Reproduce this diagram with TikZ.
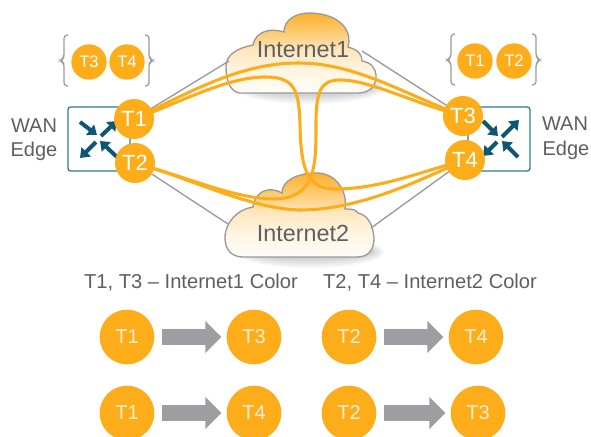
\documentclass[tikz,border=0pt]{standalone}
\usepackage{fontspec}
\setmainfont{Liberation Sans}
\usetikzlibrary{arrows.meta}
\definecolor{tunnel}{HTML}{FDAC1A}
\definecolor{linkgrey}{HTML}{9A9A9C}
\definecolor{txtgrey}{HTML}{5F5F61}
\definecolor{routerblue}{HTML}{0F5674}
\definecolor{boxblue}{HTML}{2E7A98}
\definecolor{arrowgrey}{HTML}{9E9EA2}
\definecolor{cloudtop}{HTML}{FDB02A}
\definecolor{cloudhigh}{HTML}{FDCB72}
\definecolor{cloudmid}{HTML}{FEE6BC}
\definecolor{cloudlow}{HTML}{FFF4DF}
\definecolor{cloudbot}{HTML}{FFFDF9}
\definecolor{lighttext}{HTML}{FFEFD2}
\pgfdeclareverticalshading{cloudshade}{100bp}{color(0bp)=(cloudbot); color(25bp)=(cloudbot); color(40bp)=(cloudlow); color(52bp)=(cloudmid); color(63bp)=(cloudhigh); color(75bp)=(cloudtop); color(100bp)=(cloudtop)}
\newcommand{\cloudone}{(240,93) -- (358,93) .. controls (370,93) and (377,85) .. (376,75) .. controls (375,68) and (372,63) .. (362,61) .. controls (362,55) and (359,50) .. (348,47) .. controls (352,35) and (345,14) .. (310,13) .. controls (295,13) and (284,20) .. (284,32) .. controls (272,28) and (256,30) .. (253,45) .. controls (238,48) and (226,54) .. (226,67) .. controls (226,80) and (230,92) .. (240,93) -- cycle}
\newcommand{\cloudtwo}{(243,257) -- (357,257) .. controls (370,257) and (374,248) .. (374,238) .. controls (373,225) and (368,215) .. (358,213) .. controls (356,209) and (350,209) .. (345,209) .. controls (348,190) and (335,173) .. (317,173) .. controls (298,173) and (282,180) .. (282,193) .. controls (272,187) and (256,188) .. (253,207) .. controls (238,209) and (225,222) .. (225,238) .. controls (225,250) and (232,257) .. (243,257) -- cycle}
\tikzset{
  tunnelline/.style={draw=tunnel,line width=2.3pt},
  greylink/.style={draw=linkgrey,line width=1pt},
  brace/.style={draw=linkgrey,line width=0.9pt,rounded corners=2.5pt},
  tcircle/.style={circle,fill=tunnel,text=white,inner sep=0pt,outer sep=0pt,minimum size=#1},
  tbig/.style={tcircle=30pt,font=\fontsize{16.5pt}{18pt}\selectfont},
  tsmall/.style={tcircle=26.5pt,font=\fontsize{12.5pt}{14pt}\selectfont},
  tflow/.style={tcircle=41pt,text=lighttext,font=\fontsize{15pt}{17pt}\selectfont},
  flowarrow/.style={draw=arrowgrey,line width=12pt,-{Triangle[length=12pt,width=23.5pt]},shorten <=6pt,shorten >=4pt},
  routerarrow/.style={draw=routerblue,line width=3pt,-{Triangle[length=6.5pt,width=9.5pt]}},
  cloudlabel/.style={text=txtgrey,font=\fontsize{17.5pt}{20pt}\selectfont,inner sep=0pt},
  wanlabel/.style={text=txtgrey,font=\fontsize{15pt}{18pt}\selectfont,inner sep=0pt},
  heading/.style={text=txtgrey,font=\fontsize{15.1pt}{18pt}\selectfont,inner sep=0pt},
  wanbox/.style={draw=boxblue,line width=1pt,rounded corners=2pt,fill=white},
  cloudedge/.style={draw=linkgrey,line width=1pt},
  softshadow/.style={fill=black,opacity=0.035}
}
\begin{document}
\begin{tikzpicture}[x=0.75pt,y=-0.75pt]
\useasboundingbox (0,0) rectangle (591,436);
\fill[white] (0,0) rectangle (591,436);
% cloud shadows: soft stacked ellipses showing below each cloud
\foreach \k in {0,...,5}{
  \fill[softshadow] (310,88) ellipse ({74-2.5*\k} and {16-2*\k});
  \fill[softshadow] (310,252) ellipse ({74-2.5*\k} and {16-2*\k});
}
% clouds
\path[shading=cloudshade] \cloudone;
\path[shading=cloudshade] \cloudtwo;
\draw[cloudedge] \cloudone;
\draw[cloudedge] \cloudtwo;
\node[cloudlabel] (inet1) at (303,50) {Internet1};
\node[cloudlabel] (inet2) at (303,233) {Internet2};
% router boxes
\draw[wanbox] (68,107) rectangle (130,171);
\draw[wanbox] (468,107) rectangle (530,171);
\draw[routerarrow] (80,122) -- (97,135);
\draw[routerarrow] (101,136) -- (117,121);
\draw[routerarrow] (96,142) -- (80,158);
\draw[routerarrow] (117,157) -- (100,141);
\draw[routerarrow] (483,121) -- (498,136);
\draw[routerarrow] (502,137) -- (519,120);
\draw[routerarrow] (497,142) -- (483,156);
\draw[routerarrow] (518,157) -- (502,141);
% coordinates for nodes
\coordinate (i1l) at (229,61);
\coordinate (i1r) at (362,51);
\coordinate (i2l) at (228,224);
\coordinate (i2r) at (371,228);
\coordinate (pT1) at (134,119);
\coordinate (pT2) at (135,163);
\coordinate (pT3) at (463,116);
\coordinate (pT4) at (465,160);
% grey links
\draw[greylink] (pT1) -- (i1l);
\draw[greylink] (pT2) -- (i2l);
\draw[greylink] (pT3) -- (i1r);
\draw[greylink] (pT4) -- (i2r);
% tunnels
\draw[tunnelline] (pT1) .. controls (190,92) and (240,63) .. (298,63) .. controls (355,63) and (400,92) .. (pT3);
\draw[tunnelline] (pT1) .. controls (175,105) and (225,77) .. (265,77) .. controls (295,77) and (299,90) .. (300,125) .. controls (301,165) and (305,189) .. (335,189) .. controls (380,189) and (420,172) .. (pT4);
\draw[tunnelline] (pT3) .. controls (410,102) and (370,80) .. (340,80) .. controls (320,80) and (316,92) .. (316,125) .. controls (316,165) and (316,198) .. (275,199) .. controls (235,199) and (190,178) .. (pT2);
\draw[tunnelline] (pT2) .. controls (190,178) and (250,209) .. (300,210) .. controls (360,210) and (420,180) .. (pT4);
% tunnel end points
\node[tbig] (T1) at (pT1) {T1};
\node[tbig] (T2) at (pT2) {T2};
\node[tbig] (T3) at (pT3) {T3};
\node[tbig] (T4) at (pT4) {T4};
% labels
\node[wanlabel] (wan1) at (34,126) {WAN};
\node[wanlabel] (edge1) at (34,151) {Edge};
\node[wanlabel] (wan2) at (565,124) {WAN};
\node[wanlabel] (edge2) at (566,150) {Edge};
% braces
\node[tsmall] (s3) at (89,62) {T3};
\node[tsmall] (s4) at (127,62) {T4};
\node[tsmall] (s1) at (475,61) {T1};
\node[tsmall] (s2) at (514,61) {T2};
\draw[brace] (68,35) -- (64,35) -- (64,58) -- (60,60.5) -- (64,63) -- (64,86) -- (68,86);
\draw[brace] (145,35) -- (149,35) -- (149,58) -- (153,60.5) -- (149,63) -- (149,86) -- (145,86);
\draw[brace] (455,34) -- (451,34) -- (451,57) -- (447,60) -- (451,63) -- (451,85) -- (455,85);
\draw[brace] (532,34) -- (536,34) -- (536,57) -- (540,60) -- (536,63) -- (536,85) -- (532,85);
% headings
\node[heading] (h1) at (191,282) {T1, T3 – Internet1 Color};
\node[heading] (h2) at (430,282) {T2, T4 – Internet2 Color};
% flows
\node[tflow] (a1) at (127,337) {T1};
\node[tflow] (a2) at (254,337) {T3};
\node[tflow] (b1) at (349,337) {T2};
\node[tflow] (b2) at (476,337) {T4};
\node[tflow] (c1) at (127,413) {T1};
\node[tflow] (c2) at (254,413) {T4};
\node[tflow] (d1) at (349,413) {T2};
\node[tflow] (d2) at (478,413) {T3};
\draw[flowarrow] (a1) -- (a2);
\draw[flowarrow] (b1) -- (b2);
\draw[flowarrow] (c1) -- (c2);
\draw[flowarrow] (d1) -- (d2);
\end{tikzpicture}
\end{document}
